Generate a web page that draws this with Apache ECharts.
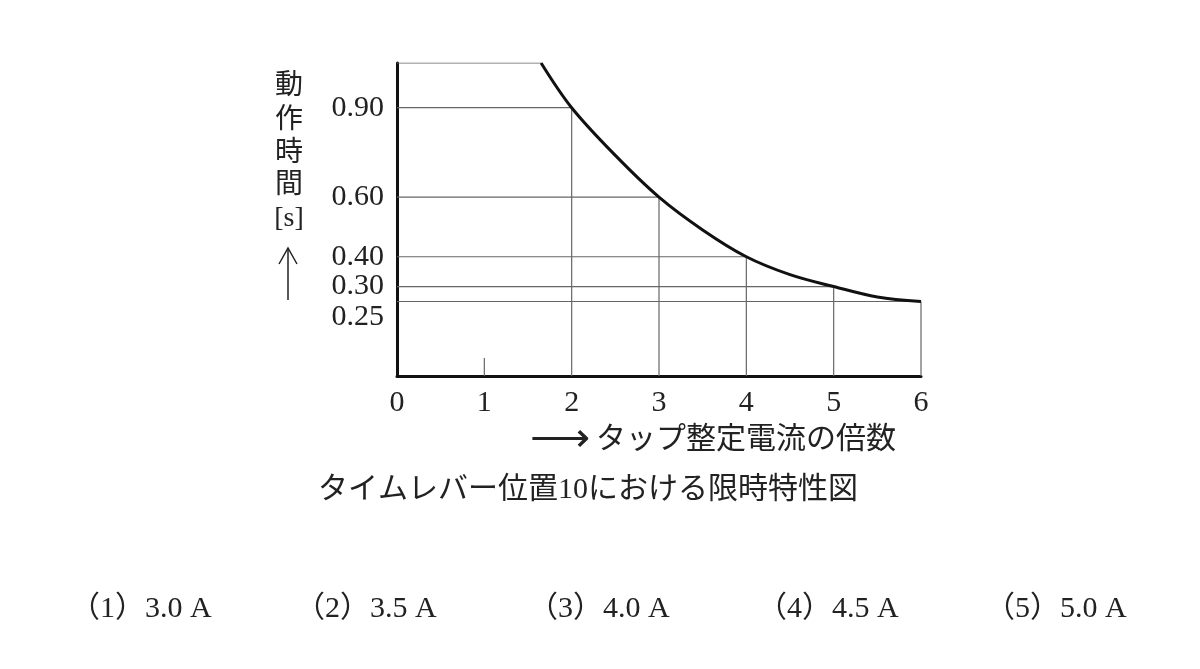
<!DOCTYPE html>
<html><head><meta charset="utf-8">
<script src="https://cdn.jsdelivr.net/npm/echarts@6/dist/echarts.min.js"></script>
<style>html,body{margin:0;padding:0;background:#fff}#c{width:1200px;height:669px}</style>
</head><body><div id="c"></div>
<script>
// data
const xTicks = [0, 1, 2, 3, 4, 5, 6];
const yTickValues = [0.30, 0.40, 0.60, 0.90];
const yLowTickValues = [0.25];
// key points where reference lines meet the curve
const keyX = [2, 3, 4, 5, 6];
const keyY = [0.90, 0.60, 0.40, 0.30, 0.25];
// curve
const curveX = [1.65, 2, 2.5, 3, 3.5, 4, 4.5, 5, 5.5, 6];
const curveY = [1.05, 0.90, 0.74, 0.60, 0.49, 0.40, 0.34, 0.30, 0.265, 0.25];
const yTop = 1.05;
const topLineEndX = 1.65;
const minorTickX = 1;
const minorTickH = 0.06;
const yName = ['動', '作', '時', '間', '[s]'];
const xArrow = '⟶';
const xName = 'タップ整定電流の倍数';
const caption = 'タイムレバー位置10における限時特性図';
const choices = ['（1）3.0 A', '（2）3.5 A', '（3）4.0 A', '（4）4.5 A', '（5）5.0 A'];

const FONT = '"Liberation Serif", "Noto Sans CJK JP", serif';
const chart = echarts.init(document.getElementById('c'), null, {renderer: 'canvas'});

const gridStyle = {color: '#666', width: 1.2};
const series = [];
function seg(data, style) {
  series.push({type: 'line', data: data, symbol: 'none', silent: true,
    lineStyle: style, z: 2, animation: false});
}
for (let i = 0; i < keyX.length; i++) {
  seg([[0, keyY[i]], [keyX[i], keyY[i]]], gridStyle);
  seg([[keyX[i], 0], [keyX[i], keyY[i]]], gridStyle);
}
seg([[0, yTop], [topLineEndX, yTop]], gridStyle);
seg([[minorTickX, 0], [minorTickX, minorTickH]], gridStyle);
series.push({type: 'line', data: curveX.map((x, i) => [x, curveY[i]]), smooth: 0.35,
  symbol: 'none', lineStyle: {color: '#111', width: 3}, z: 5, animation: false});

const graphic = [];
const yNameY = [87, 121, 154, 186, 219];
yName.forEach((t, i) => {
  graphic.push({type: 'text', x: 289, y: yNameY[i], style: {text: t, font: '28px ' + FONT,
    fill: '#222', align: 'center', verticalAlign: 'middle'}});
});
graphic.push({type: 'line', shape: {x1: 288, y1: 300, x2: 288, y2: 248}, style: {stroke: '#222', lineWidth: 1.5}});
graphic.push({type: 'polyline', shape: {points: [[279, 264], [288, 248], [297, 264]]}, style: {stroke: '#222', lineWidth: 1.5, fill: null}});
graphic.push({type: 'text', x: 560, y: 440, style: {text: xArrow, font: '42px ' + FONT, fill: '#222', align: 'center', verticalAlign: 'middle'}});
graphic.push({type: 'text', x: 596, y: 440, style: {text: xName, font: '30px ' + FONT, fill: '#222', align: 'left', verticalAlign: 'middle'}});
graphic.push({type: 'text', x: 588, y: 490, style: {text: caption, font: '30px ' + FONT, fill: '#222', align: 'center', verticalAlign: 'middle'}});
const choiceX = [70, 295, 528, 757, 985];
choices.forEach((t, i) => {
  graphic.push({type: 'text', x: choiceX[i], y: 609, style: {text: t, font: '30px ' + FONT, fill: '#222', align: 'left', verticalAlign: 'middle'}});
});

const yLabelBase = {color: '#222', fontSize: 30, fontFamily: FONT, margin: 13, hideOverlap: false,
  formatter: v => v.toFixed(2)};

chart.setOption({
  animation: false,
  grid: {left: 397, top: 63, right: 279, bottom: 293, containLabel: false},
  xAxis: {type: 'value', min: 0, max: 6, interval: 1,
    axisLine: {show: true, onZero: false, lineStyle: {color: '#111', width: 3}},
    axisTick: {show: false}, splitLine: {show: false},
    axisLabel: {color: '#222', fontSize: 30, fontFamily: FONT, margin: 12, showMinLabel: true, showMaxLabel: true,
      hideOverlap: false, customValues: xTicks}},
  yAxis: [{type: 'value', min: 0, max: yTop, position: 'left',
    axisLine: {show: true, onZero: false, lineStyle: {color: '#111', width: 3}},
    axisTick: {show: false}, splitLine: {show: false},
    axisLabel: Object.assign({customValues: yTickValues}, yLabelBase)},
   {type: 'value', min: 0, max: yTop, position: 'left', offset: 0,
    axisLine: {show: false}, axisTick: {show: false}, splitLine: {show: false},
    axisLabel: Object.assign({customValues: yLowTickValues, verticalAlign: 'top', padding: [1, 0, 0, 0]}, yLabelBase)}],
  series: series,
  graphic: graphic
});
</script></body></html>
